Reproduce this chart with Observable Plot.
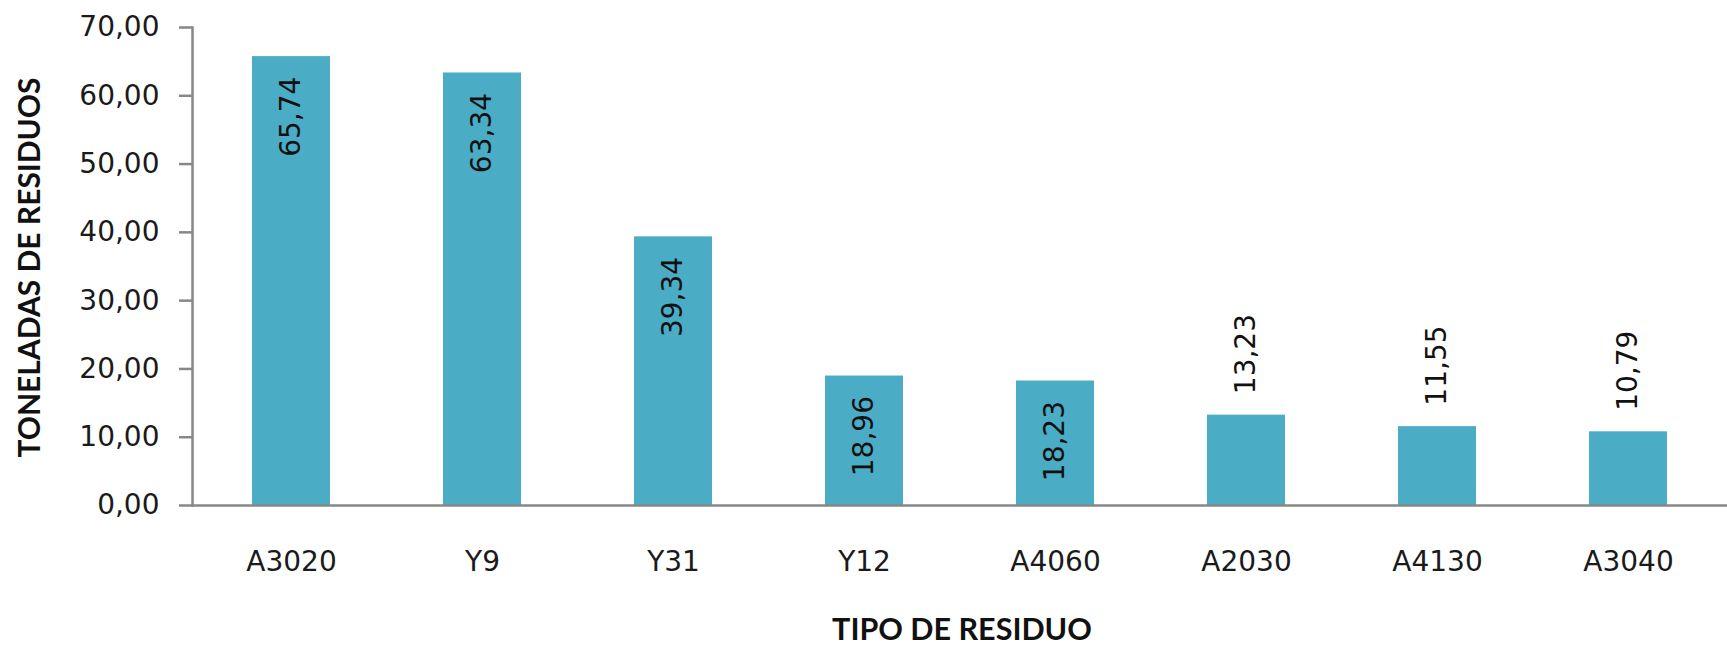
<!DOCTYPE html>
<html>
<head>
<meta charset="utf-8">
<script src="https://cdn.jsdelivr.net/npm/d3@7"></script>
<script src="https://cdn.jsdelivr.net/npm/@observablehq/plot@0.6"></script>
<style>
  html, body { margin: 0; padding: 0; background: #fff; }
  #chart svg { display: block; }
</style>
</head>
<body>
<div id="chart"></div>
<script>
const categories = ["A3020", "Y9", "Y31", "Y12", "A4060", "A2030", "A4130", "A3040"];
const values = [65.74, 63.34, 39.34, 18.96, 18.23, 13.23, 11.55, 10.79];
const yTicks = [0, 10, 20, 30, 40, 50, 60, 70];
const xTitle = "TIPO DE RESIDUO";
const yTitle = "TONELADAS DE RESIDUOS";

const data = categories.map((c, i) => ({category: c, value: values[i]}));
const fmt = v => v.toFixed(2).replace(".", ",");
const inside = data.filter(d => d.value > 15);
const outside = data.filter(d => d.value <= 15);

const axisColor = "#878787";
const barColor = "#4bacc6";

const chart = Plot.plot({
  width: 1727,
  height: 647,
  marginLeft: 192,
  marginRight: 0,
  marginTop: 27,
  marginBottom: 142,
  style: {fontFamily: "'DejaVu Sans', Verdana, sans-serif", color: "#1a1a1a", background: "#fff"},
  x: {domain: categories, paddingInner: 0.594, paddingOuter: 0.297, label: null},
  y: {domain: [0, 70], label: null},
  marks: [
    Plot.barY(data, {x: "category", y: "value", fill: barColor}),
    Plot.ruleY([0], {stroke: axisColor, strokeWidth: 2.5}),
    Plot.frame({anchor: "left", stroke: axisColor, strokeWidth: 2.5}),
    Plot.axisY({ticks: yTicks, tickFormat: fmt, tickSize: 13, tickPadding: 20, stroke: axisColor, strokeWidth: 2.5, strokeOpacity: 1, fontSize: 28, fill: "#1a1a1a", label: null}),
    Plot.axisX({tickSize: 0, tickPadding: 46, fontSize: 28, fill: "#1a1a1a", label: null}),
    Plot.text(inside, {x: "category", y: "value", text: d => fmt(d.value), rotate: -90, textAnchor: "end", dy: 20, fontSize: 28, fill: "#111"}),
    Plot.text(outside, {x: "category", y: "value", text: d => fmt(d.value), rotate: -90, textAnchor: "start", dy: -21, fontSize: 28, fill: "#111"}),
    Plot.text([xTitle], {frameAnchor: "bottom", textAnchor: "middle", lineAnchor: "middle", dx: 2, dy: 125, fontSize: 30.5, fontWeight: "bold", fontFamily: "Lato, sans-serif", fill: "#111"}),
    Plot.text([yTitle], {frameAnchor: "left", textAnchor: "middle", lineAnchor: "middle", dx: -162, dy: 1, rotate: -90, fontSize: 30, fontWeight: "bold", fontFamily: "Lato, sans-serif", fill: "#111"})
  ]
});
document.getElementById("chart").appendChild(chart);
</script>
</body>
</html>
